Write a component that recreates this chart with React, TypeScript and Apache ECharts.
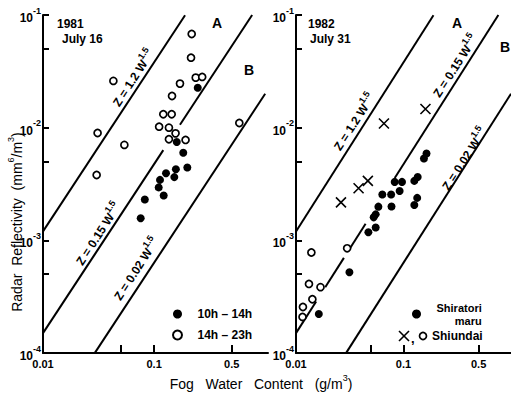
import React, { useEffect, useRef } from 'react';
import * as echarts from 'echarts';

const FONT = '"Liberation Sans", Arial, sans-serif';

// 1981 July 16 — [fog water content W (g/m3), radar reflectivity Z (mm6/m3)]
const july16Day: [number, number][] = [
  [0.247, 0.0226], [0.16, 0.00747], [0.183, 0.00599], [0.199, 0.00443],
  [0.157, 0.00428], [0.128, 0.00394], [0.152, 0.00364], [0.113, 0.00344],
  [0.11, 0.00295], [0.122, 0.0025], [0.0825, 0.0023], [0.0757, 0.00157],
];
const july16Evening: [number, number][] = [
  [0.218, 0.0678], [0.215, 0.0418], [0.043, 0.026], [0.237, 0.0278],
  [0.271, 0.0282], [0.171, 0.0246], [0.145, 0.0191], [0.121, 0.01315],
  [0.144, 0.01315], [0.031, 0.00897], [0.111, 0.0102], [0.136, 0.01],
  [0.156, 0.0089], [0.136, 0.00789], [0.192, 0.00778], [0.054, 0.00703],
  [0.585, 0.011], [0.0304, 0.0038],
];

// 1982 July 31
const july31Shiratori: [number, number][] = [
  [0.1636, 0.0059], [0.155, 0.00533], [0.1355, 0.00365], [0.126, 0.00337],
  [0.0828, 0.0033], [0.0969, 0.0033], [0.092, 0.00274], [0.0635, 0.00255],
  [0.0767, 0.00255], [0.134, 0.00238], [0.126, 0.00206], [0.0584, 0.00199],
  [0.0773, 0.002], [0.0551, 0.0017], [0.0528, 0.0016], [0.0471, 0.00118],
  [0.0551, 0.0013], [0.0314, 0.00052], [0.0163, 0.000222],
];
const july31ShiundaiCross: [number, number][] = [
  [0.0658, 0.0109], [0.16, 0.01465], [0.0466, 0.00337], [0.0382, 0.0029], [0.0262, 0.00217],
];
const july31ShiundaiCircle: [number, number][] = [
  [0.0139, 0.00078], [0.0299, 0.00085], [0.0132, 0.00041], [0.0169, 0.000384],
  [0.0142, 0.0003], [0.0116, 0.000256], [0.0115, 0.000209],
];

// Z = c W^1.5 relation lines: coefficient and visible W ranges (gaps as in the original)
const leftRelations = [
  { c: 1.2, w: [0.01, 0.19] },
  { c: 0.15, w: [0.01, 0.121] },
  { c: 0.15, w: [0.171, 0.763] },
  { c: 0.02, w: [0.0292, 1.0] },
];
const rightRelations = [
  { c: 1.2, w: [0.01, 0.19] },
  { c: 0.15, w: [0.01, 0.0154] },
  { c: 0.15, w: [0.0187, 0.0279] },
  { c: 0.15, w: [0.0316, 0.0444] },
  { c: 0.15, w: [0.0829, 0.763] },
  { c: 0.02, w: [0.0292, 1.0] },
];

const xTickValues = [0.05, 0.1, 0.5];
const xLabelValues = [0.01, 0.1, 0.5];
const yTickValues = [0.0001, 0.0005, 0.001, 0.005, 0.01, 0.05, 0.1];
const yLabelValues = [0.0001, 0.001, 0.01, 0.1];

const SLOPE_ROT = (57 * Math.PI) / 180;

function makeXAxis(gridIndex: number, max: number) {
  return {
    type: 'log', logBase: 10, gridIndex, min: 0.01, max,
    axisLine: { show: true, lineStyle: { color: '#000', width: 2 } },
    axisTick: { show: true, inside: true, length: 8, customValues: xTickValues, lineStyle: { color: '#000', width: 2 } },
    axisLabel: {
      show: true, customValues: xLabelValues, margin: 5, color: '#000',
      fontFamily: FONT, fontSize: 11, fontWeight: 'bold',
      formatter: (v: number) => String(v),
    },
    splitLine: { show: false }, minorTick: { show: false },
  };
}

function makeYAxis(gridIndex: number) {
  return {
    type: 'log', logBase: 10, gridIndex, min: 0.0001, max: 0.1,
    axisLine: { show: true, lineStyle: { color: '#000', width: 2 } },
    axisTick: { show: true, inside: true, length: 6, customValues: yTickValues, lineStyle: { color: '#000', width: 2 } },
    axisLabel: {
      show: true, customValues: yLabelValues, margin: 2, color: '#000',
      formatter: (v: number) => `{b|10}{s|${Math.round(Math.log10(v))}}`,
      rich: {
        b: { fontFamily: FONT, fontSize: 12, fontWeight: 'bold', color: '#000', lineHeight: 18, verticalAlign: 'bottom' },
        s: { fontFamily: FONT, fontSize: 9, fontWeight: 'bold', color: '#000', lineHeight: 18, verticalAlign: 'top' },
      },
    },
    splitLine: { show: false }, minorTick: { show: false },
  };
}

function relationSeries(list: { c: number; w: number[] }[], idx: number) {
  return list.map((r) => ({
    type: 'line', xAxisIndex: idx, yAxisIndex: idx, silent: true, z: 1,
    symbol: 'none', lineStyle: { color: '#000', width: 2 },
    data: r.w.map((w) => [w, r.c * Math.pow(w, 1.5)]),
  }));
}

const filledStyle = { color: '#000', opacity: 1 };
const openStyle = { color: '#fff', borderColor: '#000', borderWidth: 1.7, opacity: 1 };

function relLabel(x: number, y: number, coef: string) {
  return {
    type: 'text', x, y, rotation: SLOPE_ROT, z: 10,
    style: {
      text: `{m|Z = ${coef} W}{s|1.5}`, align: 'center', verticalAlign: 'middle',
      rich: {
        m: { fontFamily: FONT, fontSize: 12, fontWeight: 'bold', fill: '#000', lineHeight: 16, verticalAlign: 'bottom' },
        s: { fontFamily: FONT, fontSize: 9, fontWeight: 'bold', fill: '#000', lineHeight: 16, verticalAlign: 'top' },
      },
    },
  };
}

function plainText(x: number, y: number, text: string, size: number, align = 'left') {
  return {
    type: 'text', x, y, z: 10,
    style: { text, fontFamily: FONT, fontSize: size, fontWeight: 'bold', fill: '#000', align, verticalAlign: 'middle' },
  };
}

export default function App() {
  const ref = useRef<HTMLDivElement>(null);
  useEffect(() => {
    if (!ref.current) return;
    const chart = echarts.init(ref.current, undefined, { renderer: 'svg' });
    const legendText = { fontFamily: FONT, fontSize: 12, fontWeight: 'bold', color: '#000' };
    chart.setOption({
      animation: false,
      backgroundColor: '#fff',
      grid: [
        { left: 43, top: 15, width: 225, height: 338 },
        { left: 296, top: 15, width: 220, height: 338 },
      ],
      xAxis: [makeXAxis(0, 1.06), makeXAxis(1, 1)],
      yAxis: [makeYAxis(0), makeYAxis(1)],
      legend: [
        {
          data: ['10h – 14h', '14h – 23h'], orient: 'vertical', left: 167, top: 303,
          itemWidth: 30, itemHeight: 9, itemGap: 9, selectedMode: false, textStyle: legendText,
        },
        {
          data: ['Shiratori maru'], left: 407, top: 296, itemWidth: 30, itemHeight: 9,
          selectedMode: false, formatter: () => 'Shiratori\n      maru',
          textStyle: { ...legendText, fontSize: 11, lineHeight: 13 },
        },
      ],
      series: [
        ...relationSeries(leftRelations, 0),
        ...relationSeries(rightRelations, 1),
        { type: 'scatter', name: '10h – 14h', xAxisIndex: 0, yAxisIndex: 0, z: 3, symbol: 'circle', symbolSize: 8, itemStyle: filledStyle, data: july16Day },
        { type: 'scatter', name: '14h – 23h', xAxisIndex: 0, yAxisIndex: 0, z: 3, symbol: 'circle', symbolSize: 7, itemStyle: openStyle, data: july16Evening },
        { type: 'scatter', name: 'Shiratori maru', xAxisIndex: 1, yAxisIndex: 1, z: 3, symbol: 'circle', symbolSize: 8, itemStyle: filledStyle, data: july31Shiratori },
        {
          type: 'scatter', name: 'Shiundai ×', xAxisIndex: 1, yAxisIndex: 1, z: 3,
          symbol: 'path://M0,0L10,10M10,0L0,10', symbolSize: 10,
          itemStyle: { color: 'rgba(0,0,0,0)', borderColor: '#000', borderWidth: 1.6, opacity: 1 }, data: july31ShiundaiCross,
        },
        { type: 'scatter', name: 'Shiundai ○', xAxisIndex: 1, yAxisIndex: 1, z: 3, symbol: 'circle', symbolSize: 7, itemStyle: openStyle, data: july31ShiundaiCircle },
      ],
      graphic: [
        plainText(57, 24, '1981', 12),
        plainText(62, 39, 'July 16', 12),
        plainText(308, 24, '1982', 12),
        plainText(310, 39, 'July 31', 12),
        plainText(217, 23, 'A', 14, 'center'),
        plainText(249, 70, 'B', 14, 'center'),
        plainText(457, 23, 'A', 14, 'center'),
        plainText(505, 47, 'B', 14, 'center'),
        relLabel(132, 77, '1.2'),
        relLabel(97, 233, '0.15'),
        relLabel(135, 268, '0.02'),
        relLabel(353, 121, '1.2'),
        relLabel(454, 65, '0.15'),
        relLabel(463, 158, '0.02'),
        {
          type: 'text', x: 15, y: 222, rotation: Math.PI / 2, z: 10,
          style: {
            text: '{t|Radar  Reflectivity  (mm}{s|6}{t|/m}{s|3}{t|)}', align: 'center', verticalAlign: 'middle',
            rich: {
              t: { fontFamily: FONT, fontSize: 14, fill: '#000', lineHeight: 18, verticalAlign: 'bottom' },
              s: { fontFamily: FONT, fontSize: 9, fill: '#000', lineHeight: 18, verticalAlign: 'top' },
            },
          },
        },
        {
          type: 'text', x: 261, y: 382, z: 10,
          style: {
            text: '{t|Fog   Water   Content   (g/m}{s|3}{t|)}', align: 'center', verticalAlign: 'middle',
            rich: {
              t: { fontFamily: FONT, fontSize: 14, fill: '#000', lineHeight: 18, verticalAlign: 'bottom' },
              s: { fontFamily: FONT, fontSize: 9, fill: '#000', lineHeight: 18, verticalAlign: 'top' },
            },
          },
        },
        {
          type: 'group', x: 404, y: 336, z: 10,
          children: [
            { type: 'line', shape: { x1: -5, y1: -5, x2: 5, y2: 5 }, style: { stroke: '#000', lineWidth: 1.6 } },
            { type: 'line', shape: { x1: 5, y1: -5, x2: -5, y2: 5 }, style: { stroke: '#000', lineWidth: 1.6 } },
            { type: 'text', x: 7, y: 2, style: { text: ',', fontFamily: FONT, fontSize: 13, fontWeight: 'bold', fill: '#000', verticalAlign: 'middle' } },
            { type: 'circle', shape: { cx: 19, cy: 0, r: 3.5 }, style: { fill: '#fff', stroke: '#000', lineWidth: 1.7 } },
            { type: 'text', x: 28, y: 0, style: { text: 'Shiundai', fontFamily: FONT, fontSize: 12, fontWeight: 'bold', fill: '#000', verticalAlign: 'middle' } },
          ],
        },
      ],
    });
    return () => chart.dispose();
  }, []);
  return <div ref={ref} style={{ position: 'fixed', left: 0, top: 0, width: 511, height: 399, background: '#fff' }} />;
}
